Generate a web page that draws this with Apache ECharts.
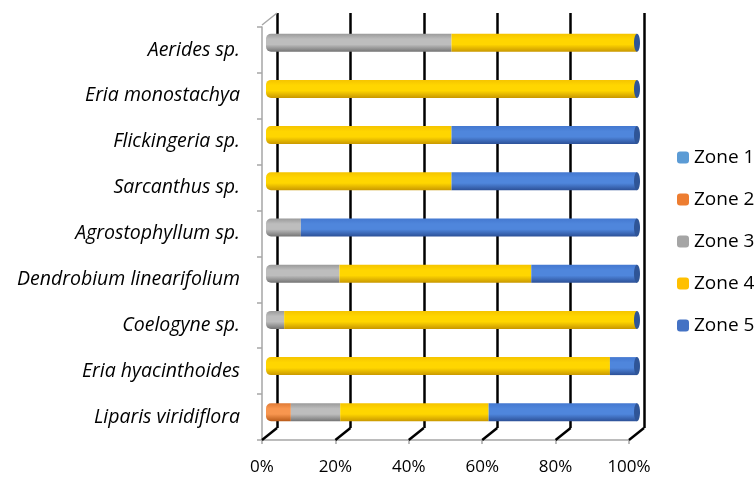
<!DOCTYPE html>
<html>
<head>
<meta charset="utf-8">
<script src="https://cdn.jsdelivr.net/npm/echarts@6/dist/echarts.min.js"></script>
<style>
html,body{margin:0;padding:0;background:#fff;}
#c{width:756px;height:478px;}
</style>
</head>
<body>
<div id="c"></div>
<script>
var categories = ['Aerides sp.', 'Eria monostachya', 'Flickingeria sp.', 'Sarcanthus sp.', 'Agrostophyllum sp.', 'Dendrobium linearifolium', 'Coelogyne sp.', 'Eria hyacinthoides', 'Liparis viridiflora'];
var zone1 = [0, 0, 0, 0, 0, 0, 0, 0, 0];
var zone2 = [0, 0, 0, 0, 0, 0, 0, 0, 6.7];
var zone3 = [50, 0, 0, 0, 9.4, 19.8, 4.9, 0, 13.3];
var zone4 = [50, 100, 50, 50, 0, 51.7, 95.1, 92.7, 40];
var zone5 = [0, 0, 50, 50, 90.6, 28.5, 0, 7.3, 40];
var xTicks = [0, 20, 40, 60, 80, 100];

var seriesNames = ['Zone 1', 'Zone 2', 'Zone 3', 'Zone 4', 'Zone 5'];
var seriesData = [zone1, zone2, zone3, zone4, zone5];
var legendColors = ['#5B9BD5', '#ED7D31', '#A5A5A5', '#FFC000', '#4472C4'];
var shades = [
  ['#4F8FCC', '#7FB5E6', '#3A73AD'],
  ['#E07A35', '#F8964F', '#B85A18'],
  ['#9A9A9A', '#BDBDBD', '#747474'],
  ['#F5C400', '#FFD600', '#C99800'],
  ['#4478D0', '#4F86DC', '#2C5097']
];

function grad(s) {
  return new echarts.graphic.LinearGradient(0, 0, 0, 1, [
    {offset: 0, color: s[0]},
    {offset: 0.3, color: s[1]},
    {offset: 0.6, color: s[1]},
    {offset: 1, color: s[2]}
  ]);
}

// first non-zero segment per category gets the rounded left end
var firstSeries = categories.map(function (c, j) {
  for (var i = 0; i < seriesData.length; i++) { if (seriesData[i][j] > 0) return i; }
  return -1;
});

var chart = echarts.init(document.getElementById('c'));
var font = 'Open Sans';
var series = seriesNames.map(function (n, i) {
  return {
    name: n,
    type: 'bar',
    stack: 'all',
    xAxisIndex: 0,
    yAxisIndex: 0,
    barWidth: 18,
    data: seriesData[i].map(function (v, j) {
      return firstSeries[j] === i ? {value: v, itemStyle: {borderRadius: [5, 0, 0, 5]}} : v;
    }),
    itemStyle: {color: grad(shades[i])},
    emphasis: {disabled: true}
  };
});

// end caps of the cylinders
series.push({
  type: 'custom',
  xAxisIndex: 0,
  yAxisIndex: 0,
  silent: true,
  z: 3,
  data: categories.map(function (c, j) { return [100, j]; }),
  renderItem: function (params, api) {
    var p = api.coord([api.value(0), api.value(1)]);
    return {
      type: 'ellipse',
      shape: {cx: p[0], cy: p[1], rx: 3, ry: 9},
      style: {fill: '#2F5597'}
    };
  }
});

// floor diagonals of the 3D walls
series.push({
  type: 'custom',
  xAxisIndex: 1,
  yAxisIndex: 1,
  silent: true,
  z: 1,
  data: xTicks.map(function (t) { return [t]; }),
  renderItem: function (params, api) {
    var v = api.value(0);
    var p = api.coord([v, 0]);
    var children = [{
      type: 'line',
      shape: {x1: p[0], y1: p[1], x2: p[0] - 15, y2: p[1] + 12},
      style: {stroke: '#000', lineWidth: 2.5}
    }];
    if (v === 0) {
      var q = api.coord([0, 1]);
      children.push({
        type: 'line',
        shape: {x1: q[0], y1: q[1], x2: q[0] - 15, y2: q[1] + 12},
        style: {stroke: '#A6A6A6', lineWidth: 1.5}
      });
    }
    return {type: 'group', children: children};
  }
});

chart.setOption({
  animation: false,
  backgroundColor: '#fff',
  color: legendColors,
  legend: {
    orient: 'vertical',
    left: 672,
    top: 143,
    itemWidth: 12,
    itemHeight: 12,
    itemGap: 23,
    data: seriesNames.map(function (n, i) { return {name: n, itemStyle: {color: legendColors[i]}}; }),
    textStyle: {fontFamily: font, fontSize: 19, color: '#000'}
  },
  grid: [
    {left: 266, right: 119, top: 19.6, bottom: 42.6},
    {left: 277, right: 112, top: 13, bottom: 50},
    {left: 262, right: 127, top: 27, bottom: 38}
  ],
  xAxis: [
    {gridIndex: 0, type: 'value', min: 0, max: 100, interval: 20, show: false},
    {gridIndex: 1, type: 'value', min: 0, max: 100, interval: 20,
      axisLine: {show: false}, axisTick: {show: false}, axisLabel: {show: false},
      splitLine: {show: true, lineStyle: {color: '#000', width: 2.5}}},
    {gridIndex: 2, type: 'value', min: 0, max: 100, interval: 20,
      axisLine: {show: true, lineStyle: {color: '#A6A6A6', width: 1.5}},
      axisTick: {show: true, length: 4, lineStyle: {color: '#A6A6A6', width: 1.5}},
      splitLine: {show: false},
      axisLabel: {formatter: '{value}%', fontFamily: font, fontSize: 17, color: '#000', margin: 19}}
  ],
  yAxis: [
    {gridIndex: 0, type: 'category', data: categories, inverse: true, show: false},
    {gridIndex: 1, type: 'value', min: 0, max: 1, show: false},
    {gridIndex: 2, type: 'category', data: categories, inverse: true,
      axisLine: {show: true, lineStyle: {color: '#A6A6A6', width: 1.5}},
      axisTick: {show: true, length: 5, lineStyle: {color: '#A6A6A6', width: 1.5}},
      axisLabel: {fontFamily: font, fontStyle: 'italic', fontSize: 19.5, color: '#000', margin: 22}}
  ],
  series: series
});
</script>
</body>
</html>
